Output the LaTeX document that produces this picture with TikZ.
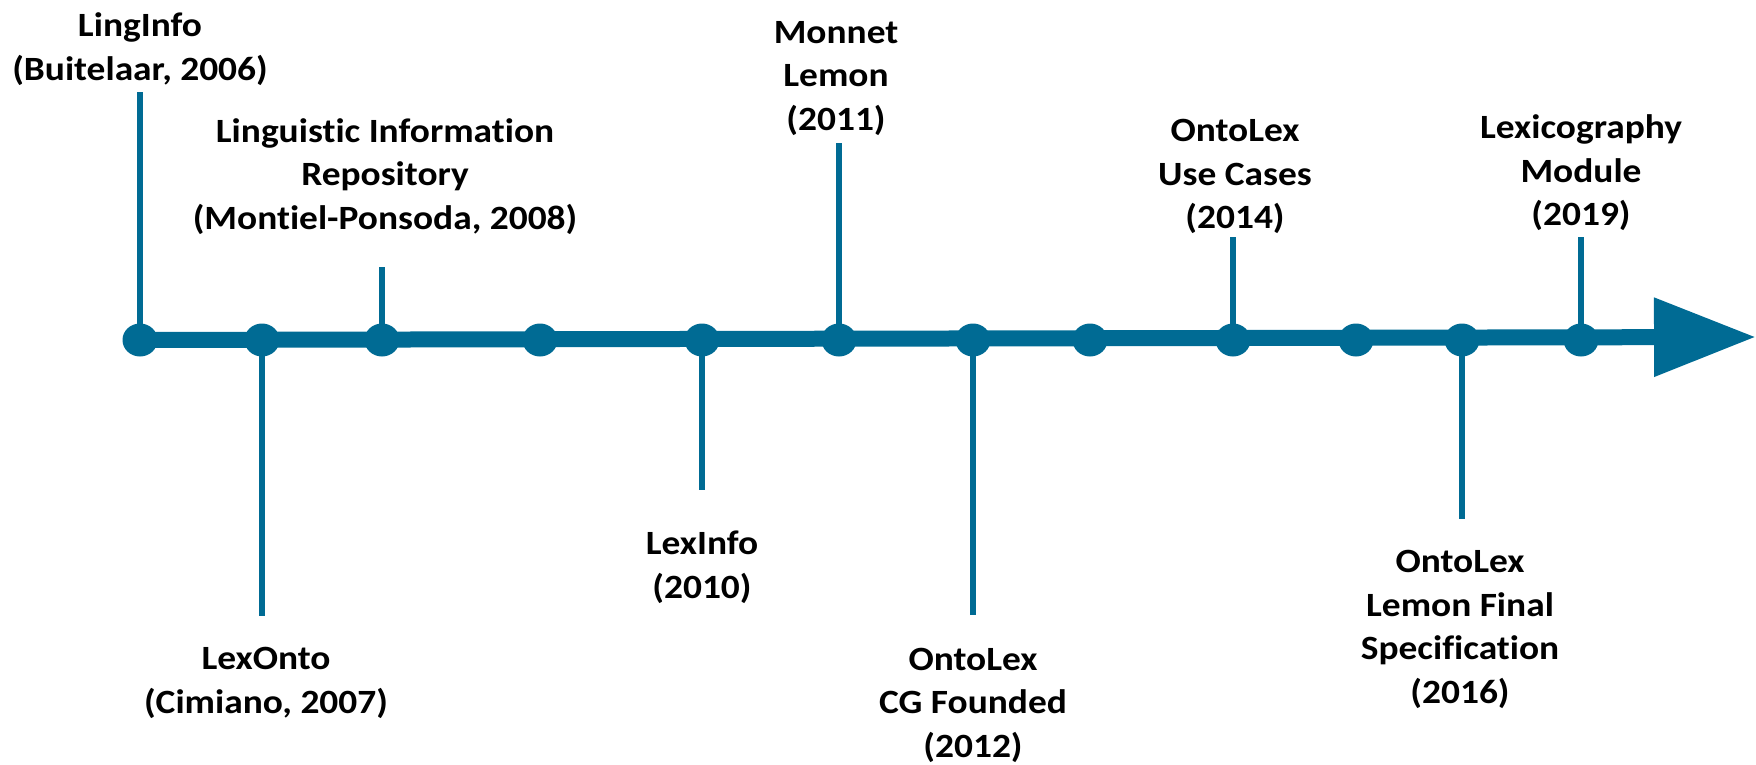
\documentclass[tikz,border=0pt]{standalone}
\usepackage{fontspec}
\setmainfont{Carlito}[FakeStretch=1.1, Ligatures=NoCommon]
\usetikzlibrary{shapes.geometric,arrows.meta}

\begin{document}
\begin{tikzpicture}[x=0.5pt,y=-0.5pt,
  dot/.style={draw=none, ellipse, fill=timeblue, minimum width=17.5pt, minimum height=16.5pt, inner sep=0pt},
  stem/.style={draw=timeblue, line width=3pt},
  axis/.style={draw=timeblue, line width=8pt, -{Triangle[length=51pt,width=37.5pt]}},
  label/.style={align=center, inner sep=0pt, font=\fontsize{17}{21.75}\selectfont\bfseries}]
\definecolor{timeblue}{RGB}{0,107,148}
\useasboundingbox (0,0) rectangle (1756,765);

\coordinate (tip) at (1756,337);
\node[dot] (d1) at (140,340) {};
\path[axis] (d1.center) -- (tip);

\node[dot] (d2) at (262,340) {};
\node[dot] (d3) at (382,340) {};
\node[dot] (d4) at (540,340) {};
\node[dot] (d5) at (702,340) {};
\node[dot] (d6) at (839,340) {};
\node[dot] (d7) at (973,340) {};
\node[dot] (d8) at (1090,340) {};
\node[dot] (d9) at (1233,340) {};
\node[dot] (d10) at (1356,340) {};
\node[dot] (d11) at (1462,340) {};
\node[dot] (d12) at (1581,340) {};

\coordinate (s1) at (140,92);
\coordinate (s2) at (262,616);
\coordinate (s3) at (382,267);
\coordinate (s5) at (702,490);
\coordinate (s6) at (839,143);
\coordinate (s7) at (973,615);
\coordinate (s9) at (1233,237);
\coordinate (s11) at (1462,519);
\coordinate (s12) at (1581,237);
\path[stem] (d1.center) -- (s1);
\path[stem] (d2.center) -- (s2);
\path[stem] (d3.center) -- (s3);
\path[stem] (d5.center) -- (s5);
\path[stem] (d6.center) -- (s6);
\path[stem] (d7.center) -- (s7);
\path[stem] (d9.center) -- (s9);
\path[stem] (d11.center) -- (s11);
\path[stem] (d12.center) -- (s12);

\node[label] (t2006) at (140,49) {LingInfo\\(Buitelaar, 2006)};
\node[label] (t2007) at (266,683) {LexOnto\\(Cimiano, 2007)};
\node[label] (t2008) at (385,176.5) {Linguistic Information\\Repository\\(Montiel-Ponsoda, 2008)};
\node[label] (t2010) at (702,567.5) {LexInfo\\(2010)};
\node[label] (t2011) at (836,78.5) {Monnet\\Lemon\\(2011)};
\node[label] (t2012) at (973,705) {OntoLex\\CG Founded\\(2012)};
\node[label] (t2014) at (1235,176.5) {OntoLex\\Use Cases\\(2014)};
\node[label] (t2016) at (1460,629.5) {OntoLex\\Lemon Final\\Specification\\(2016)};
\node[label] (t2019) at (1581,173) {Lexicography\\Module\\(2019)};
\end{tikzpicture}
\end{document}
